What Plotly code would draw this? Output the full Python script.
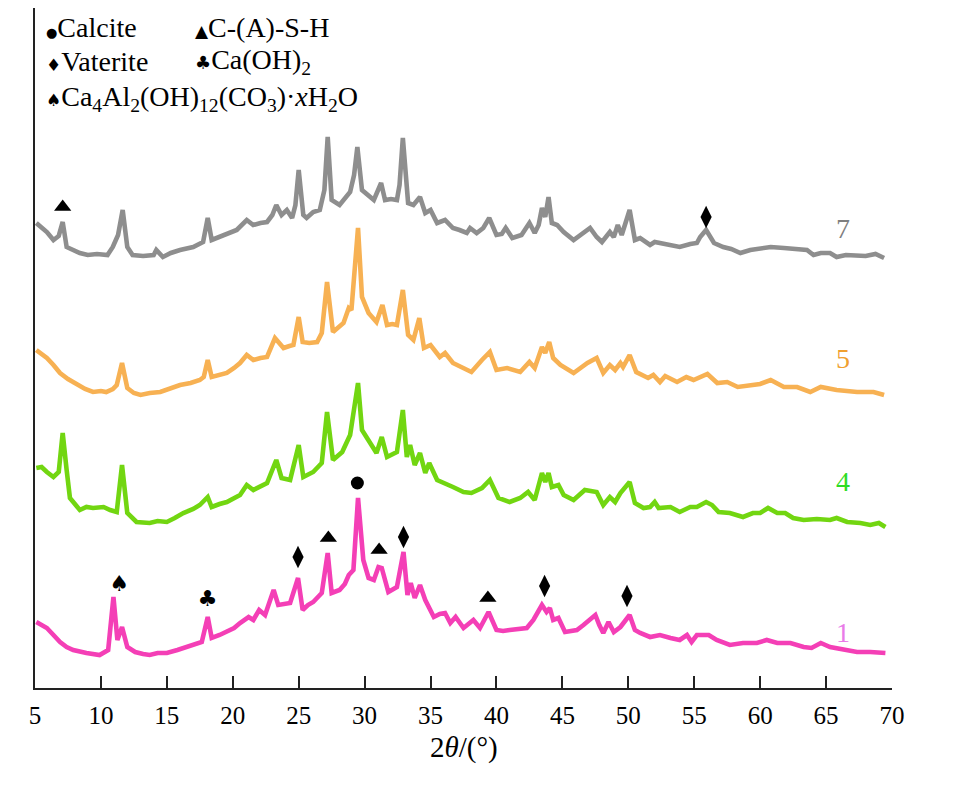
import plotly.graph_objects as go

# ---------------- data ----------------
# intensity in arbitrary units, already stacked (offset) as in the figure
two_theta_7 = [5.1, 5.9, 6.4, 6.8, 7.1, 7.4, 8.4, 9.0, 9.7, 10.5, 10.9, 11.3, 11.65, 12.0, 12.4, 13.2, 14.0, 14.2, 14.7, 15.3,
               16.0, 17.0, 17.75, 18.1, 18.4, 19.0, 19.7, 20.3, 21.06, 21.55, 22.1, 22.6, 23.0, 23.3, 23.7, 24.1, 24.5, 24.75,
               25.0, 25.35, 25.6, 26.1, 26.6, 26.95, 27.2, 27.5, 28.1, 28.5, 28.9, 29.2, 29.45, 29.8, 30.2, 30.7, 31.25, 31.55,
               32.0, 32.45, 32.65, 32.9, 33.3, 33.7, 34.2, 34.6, 35.0, 35.5, 36.1, 36.7, 37.2, 37.75, 38.0, 38.5, 39.0, 39.45,
               40.0, 40.4, 40.7, 41.2, 41.9, 42.5, 42.9, 43.2, 43.45, 43.7, 43.95, 44.2, 44.6, 45.1, 45.85, 46.3, 46.6, 47.1,
               47.6, 48.0, 48.6, 48.9, 49.2, 49.5, 50.1, 50.5, 50.9, 51.65, 52.0, 52.9, 53.4, 53.9, 54.7, 55.2, 55.45, 55.9,
               56.5, 57.2, 57.8, 58.5, 59.25, 60.0, 60.8, 61.8, 62.6, 63.55, 64.05, 64.6, 65.3, 65.8, 66.5, 67.35, 68.0, 68.75, 69.4]
intensity_7 = [465, 456, 448, 452, 466, 441, 435, 433, 434, 433, 441, 453, 478, 441, 433, 432, 433, 438, 431, 435,
               438, 441, 446, 470, 448, 451, 455, 458, 468, 463, 465, 466, 473, 483, 473, 478, 470, 483,
               518, 473, 470, 476, 478, 498, 551, 488, 483, 490, 496, 513, 541, 498, 493, 488, 505, 488,
               489, 488, 503, 550, 485, 483, 491, 475, 478, 465, 468, 460, 458, 455, 460, 455, 460, 470,
               453, 454, 460, 450, 453, 465, 455, 463, 480, 471, 491, 465, 463, 456, 448, 452, 456, 460,
               451, 446, 456, 451, 463, 453, 478, 448, 450, 443, 446, 444, 442, 441, 444, 445, 451, 458,
               445, 441, 439, 435, 438, 439, 441, 440, 439, 438, 433, 435, 435, 431, 433, 433, 432, 434, 430]

two_theta_5 = [5.1, 5.9, 6.4, 6.9, 7.5, 8.2, 8.8, 9.4, 10.0, 10.4, 10.9, 11.2, 11.6, 12.0, 12.5, 13.0, 13.7, 14.5, 15.2, 16.0,
               16.8, 17.5, 17.8, 18.1, 18.4, 19.0, 19.55, 20.1, 20.55, 21.06, 21.56, 22.1, 22.6, 23.2, 23.85, 24.3, 24.6, 25.0,
               25.3, 25.8, 26.4, 26.75, 27.15, 27.6, 28.0, 28.4, 28.8, 29.0, 29.5, 29.8, 30.3, 30.9, 31.35, 31.7, 32.1, 32.45,
               32.9, 33.3, 33.7, 34.15, 34.5, 35.0, 35.7, 36.1, 36.7, 37.5, 38.1, 38.9, 39.5, 40.0, 40.8, 41.8, 42.5, 42.9,
               43.45, 43.7, 44.0, 44.3, 44.85, 45.85, 46.9, 47.6, 48.1, 48.6, 49.0, 49.4, 49.6, 50.1, 50.6, 51.5, 51.9, 52.4,
               52.8, 53.7, 54.4, 54.95, 56.0, 56.75, 57.5, 58.3, 59.3, 60.0, 60.8, 61.8, 62.8, 63.8, 64.6, 65.8, 67.35, 68.6, 69.4]
intensity_5 = [338, 330, 323, 315, 309, 303, 299, 296, 297, 296, 299, 303, 325, 300, 295, 293, 295, 296, 299, 303,
               305, 308, 311, 328, 311, 313, 315, 320, 325, 333, 328, 330, 331, 350, 340, 342, 343, 371,
               346, 345, 346, 355, 406, 356, 361, 365, 380, 378, 460, 391, 375, 366, 383, 363, 364, 363,
               398, 353, 348, 370, 340, 343, 331, 335, 325, 320, 316, 328, 336, 318, 320, 316, 326, 320,
               341, 335, 346, 330, 323, 315, 325, 330, 315, 323, 318, 325, 321, 333, 316, 310, 313, 306,
               312, 306, 311, 308, 314, 305, 306, 301, 303, 304, 308, 301, 301, 296, 301, 298, 296, 296, 293]

two_theta_4 = [5.1, 5.5, 5.9, 6.4, 6.8, 7.1, 7.4, 7.65, 8.4, 8.9, 9.4, 10.2, 10.7, 11.2, 11.6, 12.0, 12.7, 13.7, 14.3, 15.0,
               15.6, 16.25, 17.0, 17.5, 18.1, 18.4, 19.0, 19.55, 20.55, 21.06, 21.56, 22.1, 22.6, 23.3, 23.7, 24.35, 25.0,
               25.35, 26.1, 26.75, 27.15, 27.6, 28.3, 28.9, 29.5, 29.8, 30.3, 30.9, 31.3, 31.7, 32.45, 32.9, 33.2, 33.45,
               33.8, 34.2, 34.6, 34.9, 35.5, 36.1, 36.7, 37.5, 38.1, 38.9, 39.5, 40.15, 41.0, 41.8, 42.4, 42.9, 43.45, 43.7,
               43.95, 44.2, 44.7, 45.1, 45.85, 46.7, 47.6, 48.1, 48.6, 49.0, 49.4,
               50.1, 50.5, 51.15, 51.65, 52.0, 52.3, 53.2, 53.9, 54.7, 55.2, 55.9, 56.35, 56.85, 57.7, 58.7, 59.45, 60.0,
               60.6, 61.3, 61.9, 62.5, 63.3, 64.3, 65.3, 65.8, 66.6, 67.6, 68.35, 69.0, 69.5]
intensity_4 = [220, 221, 216, 211, 216, 255, 218, 190, 178, 181, 180, 181, 178, 176, 223, 175, 166, 165, 167, 166,
               170, 175, 179, 183, 191, 181, 184, 186, 193, 203, 198, 202, 205, 228, 210, 208, 243,
               211, 216, 225, 276, 228, 236, 253, 305, 258, 248, 235, 251, 231, 236, 278, 231, 243,
               223, 235, 215, 225, 208, 204, 201, 196, 195, 200, 208, 190, 186, 190, 196, 188, 215, 206,
               215, 201, 203, 193, 188, 198, 196, 183, 191, 186, 195,
               206, 185, 180, 181, 186, 180, 181, 176, 181, 181, 186, 183, 176, 175, 171, 175, 175,
               180, 175, 175, 170, 168, 169, 168, 170, 166, 165, 163, 165, 161]

two_theta_1 = [5.1, 5.9, 6.4, 6.9, 7.4, 7.9, 8.9, 9.9, 10.55, 10.95, 11.25, 11.6, 12.0, 12.6, 13.2, 13.7, 14.3, 15.0, 15.8, 16.5,
               17.1, 17.65, 18.1, 18.4, 19.0, 19.55, 20.1, 20.55, 21.2, 21.56, 22.0, 22.45, 23.1, 23.45, 24.0, 24.35, 24.95,
               25.3, 25.7, 26.1, 26.75, 27.2, 27.5, 28.1, 28.5, 28.8, 29.15, 29.5, 29.9, 30.3, 30.7, 31.05, 31.3, 31.8,
               32.45, 32.95, 33.25, 33.5, 33.8, 34.2, 34.6, 35.25, 35.7, 36.1, 36.5, 36.9, 37.5, 38.25, 38.75, 39.4, 40.0,
               40.5, 41.0, 41.6, 42.3, 42.8, 43.45, 43.8, 44.05, 44.3, 44.7, 45.2, 45.6, 46.1, 46.6, 47.0, 47.5, 47.8,
               48.1, 48.5, 48.9, 49.4, 50.1,
               50.5, 50.9, 51.65, 52.4, 53.2, 53.9, 54.45, 54.8, 55.2, 56.1, 56.7, 57.7, 58.7, 59.75, 60.5, 61.3, 62.3,
               63.3, 63.9, 64.6, 65.3, 66.3, 67.35, 68.35, 69.5]
intensity_1 = [66, 60, 53, 46, 41, 38, 35, 33, 38, 91, 48, 61, 41, 36, 34, 33, 35, 35, 38, 41,
               43, 46, 71, 50, 53, 56, 60, 65, 71, 68, 78, 73, 98, 83, 84, 85, 110,
               78, 83, 86, 95, 135, 95, 98, 104, 113, 118, 190, 128, 110, 108, 121, 120, 96,
               101, 136, 93, 105, 90, 103, 88, 71, 74, 75, 65, 71, 60, 68, 60, 76, 58,
               57, 58, 59, 60, 68, 83, 76, 80, 68, 70, 56, 57, 58, 63, 68, 73, 63,
               55, 66, 56, 61, 73,
               58, 55, 51, 53, 50, 48, 53, 46, 53, 53, 48, 43, 45, 45, 48, 45, 45,
               41, 40, 45, 41, 38, 36, 36, 35]

sample_labels = ["7", "5", "4", "1"]
sample_label_y = [460, 330, 207, 56]
line_colors = ["#8e8e8e", "#f7b153", "#72d611", "#f43fb6"]
label_colors = ["#7f7f7f", "#f0a030", "#2edc25", "#e97be8"]

# phase markers: (2theta, intensity) of the symbols drawn above the peaks
triangle_x = [7.1, 27.25, 31.1, 39.35]
triangle_y = [481, 150, 138, 90]
diamond_x = [55.9, 24.95, 32.95, 43.65, 49.9]
diamond_y = [471, 131, 151, 102, 92]
circle_x = [29.45]
circle_y = [205]
spade_x = [11.4]
spade_y = [103]
club_x = [18.1]
club_y = [88]

x_ticks = [5, 10, 15, 20, 25, 30, 35, 40, 45, 50, 55, 60, 65, 70]

series = [(two_theta_7, intensity_7), (two_theta_5, intensity_5),
          (two_theta_4, intensity_4), (two_theta_1, intensity_1)]
for xs, ys in series:
    assert len(xs) == len(ys), (len(xs), len(ys))

SERIF = "Liberation Serif, DejaVu Serif, Noto Serif, Times New Roman, serif"

# ---------------- figure ----------------
fig = go.Figure()
for (xs, ys), col, name in zip(series, line_colors, sample_labels):
    fig.add_trace(go.Scatter(x=xs, y=ys, mode="lines", name=name,
                             line=dict(color=col, width=4.6), showlegend=False))

fig.add_trace(go.Scatter(x=triangle_x, y=triangle_y, mode="markers", showlegend=False,
                         marker=dict(symbol="triangle-up", size=15, color="black")))
fig.add_trace(go.Scatter(x=diamond_x, y=diamond_y, mode="markers", showlegend=False,
                         marker=dict(symbol="diamond-tall", size=16, color="black")))
fig.add_trace(go.Scatter(x=circle_x, y=circle_y, mode="markers", showlegend=False,
                         marker=dict(symbol="circle", size=13, color="black")))
fig.add_trace(go.Scatter(x=spade_x, y=spade_y, mode="text", text=["♠"], showlegend=False,
                         textfont=dict(family="DejaVu Sans", size=22, color="black")))
fig.add_trace(go.Scatter(x=club_x, y=club_y, mode="text", text=["♣"], showlegend=False,
                         textfont=dict(family="DejaVu Sans", size=22, color="black")))

for lab, ly, lc in zip(sample_labels, sample_label_y, label_colors):
    fig.add_annotation(x=66.3, y=ly, text=lab, showarrow=False, xanchor="center", yanchor="middle",
                       font=dict(family=SERIF, size=28, color=lc))


def sym(ch, size):
    return "<span style='font-family:DejaVu Sans;font-size:%dpx'>%s</span>" % (size, ch)


legend_rows = [
    (5.7, 661, sym("●", 13) + "Calcite"),
    (16.95, 661, sym("▲", 17) + "C-(A)-S-H"),
    (5.7, 627, sym("♦", 17) + "Vaterite"),
    (16.95, 627, sym("♣", 18) + "Ca(OH)<sub>2</sub>"),
    (5.7, 590, sym("♠", 17) + "Ca<sub>4</sub>Al<sub>2</sub>(OH)<sub>12</sub>(CO<sub>3</sub>)·<i>x</i>H<sub>2</sub>O"),
]
for lx, ly, txt in legend_rows:
    fig.add_annotation(x=lx, y=ly, text=txt, showarrow=False, xanchor="left", yanchor="middle",
                       font=dict(family=SERIF, size=28, color="black"))

fig.add_annotation(x=0.5, y=-0.088, xref="paper", yref="paper", text="2<i>θ</i>/(°)",
                   showarrow=False, xanchor="center", yanchor="middle",
                   font=dict(family=SERIF, size=29, color="black"))

fig.update_layout(
    width=959, height=778,
    margin=dict(l=27, r=75, t=0, b=98),
    paper_bgcolor="white", plot_bgcolor="white",
    xaxis=dict(range=[5, 70], tickmode="array", tickvals=x_ticks, ticks="inside", ticklen=12,
               tickwidth=1.5, tickcolor="#222", showline=True, linecolor="#222", linewidth=2,
               showgrid=False, zeroline=False, ticklabelstandoff=4,
               tickfont=dict(family=SERIF, size=25, color="black")),
    yaxis=dict(range=[0, 680], showline=True, linecolor="#222", linewidth=2, showgrid=False,
               zeroline=False, showticklabels=False, ticks=""),
)

fig.write_html("out.html")
